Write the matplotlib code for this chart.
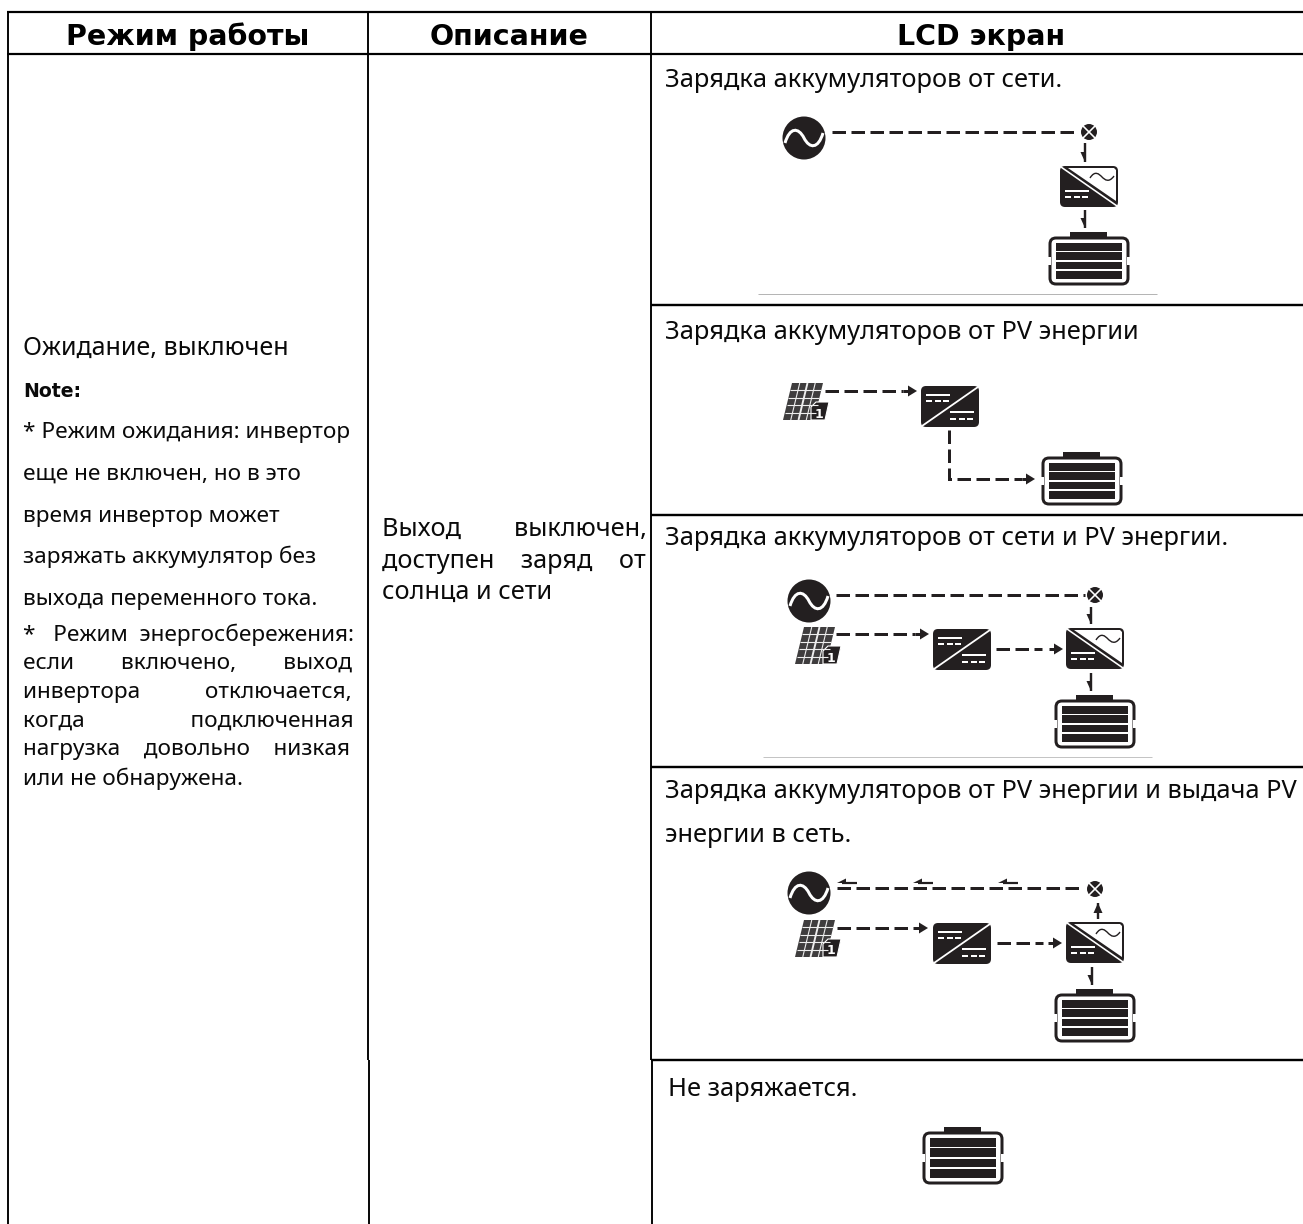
import matplotlib
matplotlib.use("Agg")
import matplotlib.pyplot as plt
from matplotlib.patches import Circle, FancyBboxPatch, Polygon, Rectangle, PathPatch
from matplotlib.path import Path

plt.rcParams["lines.scale_dashes"] = False

# ---- table content ----
headers = ["Режим работы", "Описание", "LCD экран"]
mode_lines = ["Ожидание, выключен", "Note:", "* Режим ожидания: инвертор", "еще не включен, но в это",
              "время инвертор может", "заряжать аккумулятор без", "выхода переменного тока.",
              "* Режим энергосбережения:", "если включено, выход", "инвертора отключается,",
              "когда подключенная", "нагрузка довольно низкая", "или не обнаружена."]
desc_lines = ["Выход выключен,", "доступен заряд от", "солнца и сети"]
lcd_lines = ["Зарядка аккумуляторов от сети.", "Зарядка аккумуляторов от PV энергии",
             "Зарядка аккумуляторов от сети и PV энергии.",
             "Зарядка аккумуляторов от PV энергии и выдача PV", "энергии в сеть.", "Не заряжается."]

# ---- layout (pixels) ----
W, H = 1303, 1224
INK = "#0a0a0a"
ICON = "#231f20"
BODY = "Noto Sans"
HEAD_SIZE = 20.5
mode_base = [355, 397, 438, 480, 522, 563, 605, 641, 669, 698, 727, 755, 785]
mode_just = [7, 8, 9, 10, 11]
mode_size = [18.0, 13.6, 16.3, 16.3, 16.3, 16.3, 16.3, 16.3, 16.3, 16.3, 16.3, 16.3, 16.3]
desc_base = [536, 568, 599]
DESC_SIZE = 18.2
lcd_base = [87, 339, 545, 798, 842, 1096]
lcd_x = [665, 665, 665, 665, 665, 668]
LCD_SIZE = 18.3

fig = plt.figure(figsize=(W / 100, H / 100), dpi=100, facecolor="white")
ax = fig.add_axes([0, 0, 1, 1])
ax.set_xlim(0, W)
ax.set_ylim(H, 0)
ax.axis("off")
px = 0.72


def ln(xs, ys, w=2.0, c="black", **kw):
    ax.plot(xs, ys, color=c, lw=w * px, solid_capstyle="butt", **kw)


def dash(xs, ys, on=13.5, off=5.5, w=3.0):
    l, = ax.plot(xs, ys, color=ICON, lw=w * px, dash_capstyle="butt", dash_joinstyle="miter")
    l.set_dashes([on * px, off * px])


def head(tip, d, size=9, half=False, wid=4.5):
    x, y = tip
    dx, dy = d
    nx, ny = -dy, dx
    pts = [(x, y), (x - dx * size + nx * wid, y - dy * size + ny * wid),
           (x - dx * size - nx * wid, y - dy * size - ny * wid)]
    if half:
        pts[2] = (x - dx * size, y - dy * size)
    ax.add_patch(Polygon(pts, closed=True, fc=ICON, ec="none"))


def harrow(x0, x1, tip, y):
    dash([x0, x1], [y, y])
    ax.plot([tip - 14, tip - 6], [y, y], color=ICON, lw=3 * px, solid_capstyle="butt")
    head((tip, y), (1, 0), size=9, wid=5.5)


def varrow(x, y0, y1):
    ln([x, x], [y0, y1], 2.4, ICON)
    d = 1 if y1 > y0 else -1
    head((x, y1), (0, d), size=10, wid=4.5, half=(d == 1))


def ac_source(cx, cy):
    ax.add_patch(Circle((cx, cy), 21.5, fc=ICON, ec="none"))
    r = 19
    verts = [(cx - r, cy + 5), (cx - r * .75, cy - 11), (cx - r * .3, cy - 11), (cx, cy),
             (cx + r * .3, cy + 11), (cx + r * .75, cy + 11), (cx + r, cy - 5)]
    p = Path(verts, [Path.MOVETO] + [Path.CURVE4] * 6)
    ax.add_patch(PathPatch(p, fc="none", ec="white", lw=3 * px))


def breaker(cx, cy):
    ax.add_patch(Circle((cx, cy), 8, fc=ICON, ec="none"))
    k = 6
    ln([cx - k, cx + k], [cy - k, cy + k], 1.6, "white")
    ln([cx - k, cx + k], [cy + k, cy - k], 1.6, "white")


def box(x0, y0, x1, y1):
    ax.add_patch(FancyBboxPatch((x0 + 3, y0 + 3), x1 - x0 - 6, y1 - y0 - 6,
                                boxstyle="round,pad=3,rounding_size=5", fc=ICON, ec="none"))


def wl(x0, x1, y, w=2.0):
    ln([x0, x1], [y, y], w, "white")


def wdash(x0, y, n=3, seg=6, gap=2.5):
    for i in range(n):
        wl(x0 + i * (seg + gap), x0 + i * (seg + gap) + seg, y)


def inverter(x0, y0):
    """AC inverter: dark lower-left half, outlined upper-right half with a wave."""
    x1, y1 = x0 + 58, y0 + 41
    box(x0, y0, x1, y1)
    ax.add_patch(Polygon([(x0 + 8, y0 + 2), (x1 - 4, y0 + 2), (x1 - 2, y0 + 4), (x1 - 2, y1 - 6)],
                         closed=True, fc="white", ec="none"))
    ln([x0 + 1, x1 - 1], [y0 + 1, y1 - 1], 1.6, "white")
    xm, ym = x0 + 42, y0 + 11
    v = [(xm - 12, ym + 1), (xm - 7, ym - 7), (xm - 3, ym - 3), (xm, ym),
         (xm + 3, ym + 3), (xm + 7, ym + 6), (xm + 12, ym - 1)]
    ax.add_patch(PathPatch(Path(v, [Path.MOVETO] + [Path.CURVE4] * 6), fc="none", ec=ICON, lw=1.4 * px))
    wl(x0 + 5, x0 + 29, y0 + 25)
    wdash(x0 + 5, y0 + 31)


def charger(x0, y0):
    """DC charger: solid block split by a rising diagonal."""
    x1, y1 = x0 + 58, y0 + 41
    box(x0, y0, x1, y1)
    ln([x1 - 1, x0 + 1], [y0 + 1, y1 - 1], 1.8, "white")
    wl(x0 + 5, x0 + 29, y0 + 9)
    wdash(x0 + 5, y0 + 15)
    wl(x0 + 29, x0 + 53, y0 + 26)
    wdash(x0 + 29, y0 + 33)


def battery(x0, y0, h=48):
    x1, y1 = x0 + 80, y0 + h
    ax.add_patch(Rectangle((x0 + 21, y0 - 5), 37, 6, fc=ICON, ec="none"))
    ax.add_patch(FancyBboxPatch((x0 + 6, y0 + 6), 68, h - 12, boxstyle="round,pad=5,rounding_size=6",
                                fc="none", ec=ICON, lw=3 * px))
    mid = y0 + h * 0.50
    ax.add_patch(Rectangle((x0 - 2, mid - 4), 4, 8, fc="white", ec="none"))
    ax.add_patch(Rectangle((x1 - 2, mid - 4), 4, 8, fc="white", ec="none"))
    ty, by = y0 + 6, y1 - 5
    n = 4
    step = (by - ty) / n
    for i in range(n):
        ax.add_patch(Rectangle((x0 + 7, ty + i * step), 66, step - 1.4, fc=ICON, ec="none"))


def pv(x0, y0):
    """Solar panel with a small numbered tag."""
    w, h, sk = 31, 37, 9
    P = lambda u, v: (x0 + sk * (1 - v) + u * w, y0 + v * h)
    ax.add_patch(Polygon([P(0, 0), P(1, 0), P(1, 1), P(0, 1)], closed=True, fc="#3f3d3e", ec="none"))
    for i in range(1, 4):
        a, b = P(i / 4, 0), P(i / 4, 1)
        ln([a[0], b[0]], [a[1], b[1]], 1.1 if i != 2 else 1.9, "#eeeeee")
    for j in range(1, 5):
        a, b = P(0, j / 5), P(1, j / 5)
        ln([a[0], b[0]], [a[1], b[1]], 1.1, "#eeeeee")
    tx, ty = x0 + 30, y0 + 19
    ax.add_patch(Polygon([(tx + 3, ty), (tx + 16, ty), (tx + 12, ty + 18), (tx - 2, ty + 18), (tx - 2, ty + 5)],
                         closed=True, fc=ICON, ec="white", lw=0.8))
    ax.text(tx + 6, ty + 15.5, "1", color="white", fontsize=9, fontweight="bold", family="DejaVu Sans",
            ha="center", va="baseline")


# ---- grid ----
BR = 1060
ln([7, W], [12, 12], 2.2)
ln([7, W], [54.3, 54.3], 2.2)
for x in [7.6, 368, 651]:
    ln([x, x], [11, BR], 1.9)
    ln([x + .6, x + .6], [BR, H], 1.9)
for y in [305, 515, 767, BR]:
    ln([651, W], [y, y], 2.4)
ln([758, 1157], [294, 294], 1.0, "#b5b5b5")
ln([763, 1152], [757, 757], 1.0, "#c4c4c4")

# ---- text helpers ----
fig.canvas.draw()
rend = fig.canvas.get_renderer()


def tw(s, **kw):
    t = ax.text(0, 0, s, **kw)
    w = t.get_window_extent(rend).width
    t.remove()
    return w


def put(s, x, y, size, right=None, family=BODY, weight="normal"):
    kw = dict(fontsize=size, family=family, fontweight=weight)
    if right is not None:
        words = s.split(" ")
        gaps = len(words) - 1
        sp = tw("a a", **kw) - tw("aa", **kw)
        free = right - x - tw("".join(words), **kw)
        total = max(gaps, round(free / sp))
        s = words[0]
        for i, w in enumerate(words[1:]):
            s += " " * (total // gaps + (1 if i < total % gaps else 0)) + w
    ax.text(x, y, s, ha="left", va="baseline", color=INK, **kw)


# ---- headers ----
for s, cx in zip(headers, [188, 509, 981]):
    ax.text(cx, 45, s, ha="center", va="baseline", color="black", fontsize=HEAD_SIZE,
            family="DejaVu Sans", fontweight="bold")

# ---- left columns ----
for i, (s, y) in enumerate(zip(mode_lines, mode_base)):
    if s == "Note:":
        put(s, 23, y, mode_size[i], family="DejaVu Sans", weight="bold")
    else:
        put(s, 23, y, mode_size[i], right=352 if i in mode_just else None)
for i, (s, y) in enumerate(zip(desc_lines, desc_base)):
    put(s, 382, y, DESC_SIZE, right=644 if i < 2 else None)
for s, y, x in zip(lcd_lines, lcd_base, lcd_x):
    put(s, x, y, LCD_SIZE)

# ---- diagram 1: grid charging ----
ac_source(804, 138)
dash([832, 1078], [132, 132])
breaker(1089, 132)
varrow(1085, 143, 162)
inverter(1060, 166)
varrow(1085, 210, 228)
battery(1049, 237)

# ---- diagram 2: PV charging ----
pv(783, 383)
harrow(825, 903, 917, 391)
charger(921, 386)
dash([949, 949, 1022], [430, 479, 479])
ax.plot([1022, 1028], [479, 479], color=ICON, lw=3 * px, solid_capstyle="butt")
head((1035, 479), (1, 0), size=9, wid=5.5)
battery(1042, 457)

# ---- diagram 3: grid + PV charging ----
ac_source(809, 601)
dash([836, 1085], [595, 595])
breaker(1095, 595)
varrow(1091, 607, 624)
pv(795, 627)
harrow(836, 915, 929, 634)
charger(933, 629)
harrow(996, 1042, 1063, 649)
inverter(1066, 628)
varrow(1091, 673, 691)
battery(1055, 700)

# ---- diagram 4: PV charging + feed-in ----
ac_source(809, 893)
dash([837, 1082], [888, 888])
breaker(1095, 889)
for xa in [837, 913, 998]:
    ln([xa + 5, xa + 20], [883, 883], 2.2, ICON)
    ax.add_patch(Polygon([(xa, 883), (xa + 9, 878.5), (xa + 9, 883)], closed=True, fc=ICON, ec="none"))
varrow(1098, 919, 903)
pv(795, 920)
harrow(837, 918, 928, 928)
charger(933, 923)
harrow(997, 1043, 1062, 943)
inverter(1066, 922)
varrow(1092, 967, 985)
battery(1055, 994)

# ---- diagram 5: no charging ----
battery(923, 1132, h=52)

fig.savefig("out.png", dpi=100, facecolor="white")
